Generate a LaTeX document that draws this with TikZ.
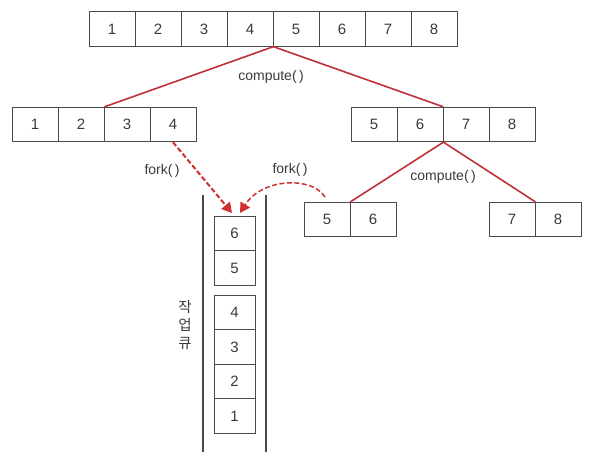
\documentclass[tikz,border=0pt]{standalone}
\usepackage{fontspec}
\setmainfont{Liberation Sans}
\newfontfamily\krfont{Noto Sans CJK KR}
\usetikzlibrary{arrows.meta,calc}
\definecolor{boxline}{HTML}{4A4A4A}
\definecolor{txt}{HTML}{3A3A3A}
\definecolor{redline}{HTML}{C0303A}
\definecolor{forkred}{HTML}{D03030}
\tikzset{
  cell/.style={draw=boxline, line width=0.8pt, minimum width=46pt, minimum height=34.5pt, inner sep=0pt, text=txt, font=\fontsize{15}{15}\selectfont},
  qcell/.style={cell, minimum width=41pt},
  split/.style={draw=redline, line width=1.6pt},
  forkarrow/.style={draw=forkred, dash pattern=on 5pt off 2.5pt, line width=2pt, -{Triangle[width=11pt,length=10pt,fill=forkred,sep=0pt]}},
  lbl/.style={text=txt, font=\fontsize{14}{14}\selectfont, inner sep=0pt},
  wall/.style={draw=boxline, line width=1.4pt}
}
\begin{document}
\begin{tikzpicture}[x=1pt,y=-1pt]
\useasboundingbox (0,0) rectangle (591,461);
% top array
\foreach \i in {1,...,8} {
  \node[cell] (t\i) at ({112+46*(\i-1)},29) {\i};
}
% left array
\foreach \i in {1,...,4} {
  \node[cell] (l\i) at ({35+46*(\i-1)},124.5) {\i};
}
% right array
\foreach \i/\v in {1/5,2/6,3/7,4/8} {
  \node[cell] (r\i) at ({374+46*(\i-1)},124.5) {\v};
}
% bottom arrays
\node[cell] (b5) at (327,219.5) {5};
\node[cell] (b6) at (373,219.5) {6};
\node[cell] (c7) at (512,219.5) {7};
\node[cell] (c8) at (558,219.5) {8};
% queue
\node[qcell] (q6) at (234.5,233.5) {6};
\node[qcell] (q5) at (234.5,268) {5};
\node[qcell] (q4) at (234.5,312.5) {4};
\node[qcell] (q3) at (234.5,347) {3};
\node[qcell] (q2) at (234.5,381.5) {2};
\node[qcell] (q1) at (234.5,416) {1};
\coordinate (wl1) at (203,195);
\coordinate (wl2) at (203,452);
\coordinate (wr1) at (266,195);
\coordinate (wr2) at (266,452);
\draw[wall] (wl1) -- (wl2);
\draw[wall] (wr1) -- (wr2);
\node[text=txt, font=\krfont\fontsize{14.5}{18}\selectfont, align=center, inner sep=0pt] (qlabel) at (185,325) {작\\업\\큐};
% compute splits
\draw[split] (t4.south east) -- (l2.north east);
\draw[split] (t4.south east) -- (r2.north east);
\draw[split] (r2.south east) -- (b5.north east);
\draw[split] (r2.south east) -- (c7.north east);
\node[lbl] (comp1) at (271,77) {compute(\,)};
\node[lbl] (comp2) at (443,177) {compute(\,)};
% forks
\coordinate (tipL) at (232,213);
\coordinate (tipR) at (240,213);
\coordinate (forkS) at (325,197);
\draw[forkarrow] (l4.south) -- (tipL);
\draw[forkarrow, line width=1.5pt] (forkS) .. controls (312,176) and (262,178) .. (tipR);
\node[lbl] (fork1) at (162,171) {fork(\,)};
\node[lbl] (fork2) at (290,170) {fork(\,)};
\end{tikzpicture}
\end{document}
